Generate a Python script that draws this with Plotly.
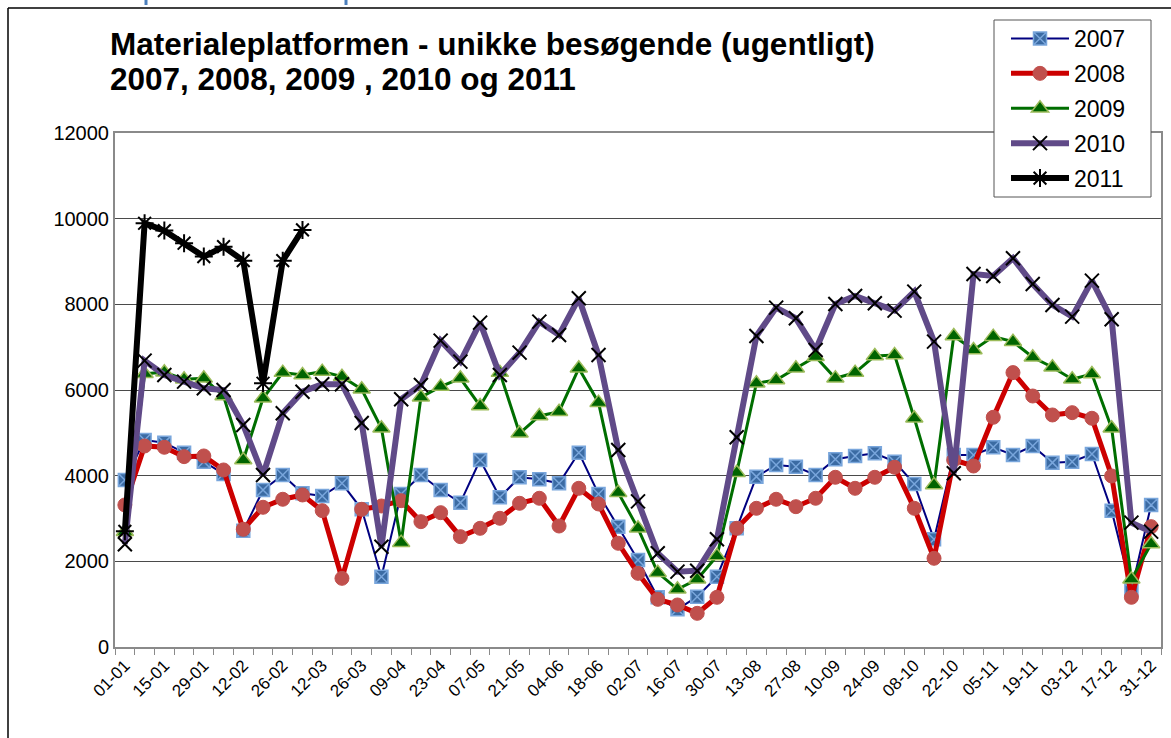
import plotly.graph_objects as go

weeks = ["01-01", "08-01", "15-01", "22-01", "29-01", "05-02", "12-02", "19-02", "26-02",
         "05-03", "12-03", "19-03", "26-03", "02-04", "09-04", "16-04", "23-04", "30-04",
         "07-05", "14-05", "21-05", "28-05", "04-06", "11-06", "18-06", "25-06", "02-07",
         "09-07", "16-07", "23-07", "30-07", "06-08", "13-08", "20-08", "27-08", "03-09",
         "10-09", "17-09", "24-09", "01-10", "08-10", "15-10", "22-10", "29-10", "05-11",
         "12-11", "19-11", "26-11", "03-12", "10-12", "17-12", "24-12", "31-12"]

v2007 = [3899, 4833, 4771, 4537, 4327, 4040, 2716, 3666, 4016, 3588, 3526, 3822, 3215,
         1642, 3573, 4016, 3666, 3370, 4366, 3495, 3962, 3916, 3822, 4537, 3573, 2810,
         2032, 1160, 880, 1175, 1642, 2771, 3977, 4250, 4210, 4016, 4382, 4460, 4522,
         4327, 3806, 2514, 4483, 4483, 4663, 4483, 4693, 4304, 4327, 4507, 3183, 1331, 3316]

v2008 = [3316, 4693, 4663, 4444, 4460, 4133, 2748, 3262, 3449, 3549, 3183, 1603, 3215,
         3292, 3416, 2926, 3136, 2576, 2771, 3005, 3355, 3472, 2825, 3705, 3339, 2421,
         1720, 1113, 981, 786, 1160, 2771, 3238, 3449, 3276, 3472, 3962, 3705, 3962,
         4196, 3238, 2071, 4366, 4226, 5363, 6406, 5860, 5417, 5471, 5340, 3993, 1160, 2810]

v2009 = [2692, 6380, 6414, 6251, 6274, 5860, 4366, 5807, 6406, 6351, 6429, 6312, 6017,
         5106, 2436, 5830, 6079, 6274, 5628, 6406, 4990, 5394, 5495, 6507, 5705, 3604,
         2771, 1736, 1347, 1580, 2125, 4070, 6157, 6234, 6507, 6778, 6274, 6406, 6795,
         6818, 5340, 3783, 7262, 6935, 7246, 7129, 6764, 6531, 6251, 6375, 5106, 1580, 2405]

v2010 = [2400, 6685, 6350, 6195, 6040, 6000, 5184, 4016, 5457, 5961, 6134, 6134, 5230,
         2342, 5784, 6118, 7153, 6662, 7573, 6351, 6872, 7596, 7285, 8142, 6818, 4600,
         3400, 2188, 1759, 1782, 2514, 4896, 7262, 7923, 7674, 6935, 8009, 8196, 8025,
         7853, 8297, 7129, 4056, 8710, 8663, 9076, 8476, 7986, 7713, 8553, 7652, 2903, 2693]

v2011 = [2700, 9893, 9721, 9427, 9114, 9347, 9020, 6157, 9020, 9737]

y_ticks = [0, 2000, 4000, 6000, 8000, 10000, 12000]
y_ticktext = ["0", "2000", "4000", "6000", "8000", "10000", "12000"]

FONT = "Liberation Sans, Arial, sans-serif"
xs = list(range(len(weeks)))

fig = go.Figure()

fig.add_trace(go.Scatter(
    x=xs, y=v2007, name="2007", mode="lines+markers", legendgroup="a",
    line=dict(color="#000080", width=2),
    marker=dict(symbol="square-x", size=13, color="#3b6ba3",
                line=dict(color="#79a6dc", width=1.5))))
fig.add_trace(go.Scatter(
    x=xs, y=v2008, name="2008", mode="lines+markers", legendgroup="b",
    line=dict(color="#cc0000", width=5),
    marker=dict(symbol="circle", size=14, color="#c0504d",
                line=dict(color="#c0504d", width=1))))
fig.add_trace(go.Scatter(
    x=xs, y=v2009, name="2009", mode="lines+markers", legendgroup="c",
    line=dict(color="#006e00", width=3),
    marker=dict(symbol="triangle-up", size=15, color="#006400",
                line=dict(color="#9bbb59", width=1.5))))
fig.add_trace(go.Scatter(
    x=xs, y=v2010, name="2010", mode="lines+markers", legendgroup="d",
    line=dict(color="#604a88", width=6),
    marker=dict(symbol="x-thin", size=14, color="black",
                line=dict(color="black", width=2))))
fig.add_trace(go.Scatter(
    x=xs[:len(v2011)], y=v2011, name="2011", mode="lines+markers", legendgroup="e",
    line=dict(color="black", width=6),
    marker=dict(symbol="asterisk", size=15, color="black",
                line=dict(color="black", width=2))))

L, R, T, B = 115, 10, 133, 91
W, H = 1171, 738
pw, ph = W - L - R, H - T - B

def px(xp):
    return (xp - L) / pw

def py(yp):
    return (H - B - yp) / ph

fig.update_layout(
    width=W, height=H,
    margin=dict(l=L, r=R, t=T, b=B, autoexpand=False),
    paper_bgcolor="white", plot_bgcolor="white",
    font=dict(family=FONT, color="black"),
    showlegend=True,
    legend=dict(x=px(1006), y=py(17), xanchor="left", yanchor="top",
                bgcolor="rgba(0,0,0,0)", borderwidth=0,
                font=dict(size=23, family=FONT), itemwidth=58,
                tracegroupgap=2, traceorder="grouped"),
    xaxis=dict(range=[-0.5, len(weeks) - 0.5], tickmode="array",
               tickvals=xs[::2], ticktext=weeks[::2], tickangle=-45,
               tickfont=dict(size=17, family=FONT), ticks="", automargin=False,
               showgrid=False, zeroline=False,
               showline=True, linecolor="#8a8a8a", linewidth=2, mirror=True,
               minor=dict(tickmode="array",
                          tickvals=[i - 0.5 for i in range(len(weeks) + 1)],
                          ticks="outside", ticklen=6, tickcolor="#8a8a8a",
                          tickwidth=1, showgrid=False)),
    yaxis=dict(range=[0, 12000], tickmode="array", tickvals=y_ticks,
               ticktext=y_ticktext, automargin=False,
               tickfont=dict(size=20, family=FONT), ticks="",
               showgrid=True, gridcolor="#4a4a4a", gridwidth=1, zeroline=False,
               showline=True, linecolor="#8a8a8a", linewidth=2, mirror=True),
    annotations=[
        dict(text="<b>Materialeplatformen - unikke besøgende (ugentligt)</b>",
             xref="paper", yref="paper", x=px(108), y=py(44.5),
             xanchor="left", yanchor="middle", showarrow=False,
             font=dict(size=31.5, family=FONT, color="black")),
        dict(text="<b>2007, 2008, 2009 , 2010 og 2011</b>",
             xref="paper", yref="paper", x=px(108), y=py(79.5),
             xanchor="left", yanchor="middle", showarrow=False,
             font=dict(size=31.5, family=FONT, color="black")),
    ],
    shapes=[
        dict(type="line", xref="paper", yref="paper", x0=px(8), x1=px(1175),
             y0=py(8), y1=py(8), line=dict(color="black", width=1.5)),
        dict(type="line", xref="paper", yref="paper", x0=px(8), x1=px(8),
             y0=py(8), y1=py(745), line=dict(color="black", width=1.5)),
        dict(type="line", xref="paper", yref="paper", x0=px(146), x1=px(146),
             y0=py(0), y1=py(5), line=dict(color="#4a7ebb", width=3)),
        dict(type="line", xref="paper", yref="paper", x0=px(346), x1=px(346),
             y0=py(0), y1=py(5), line=dict(color="#4a7ebb", width=3)),
        dict(type="rect", xref="paper", yref="paper", layer="above",
             x0=px(994), x1=px(1151), y0=py(20), y1=py(197),
             fillcolor="white", line=dict(color="#555555", width=1)),
    ],
)

fig.write_html("out.html", config={"displayModeBar": False},
               post_script="document.body.style.margin='0px';")
